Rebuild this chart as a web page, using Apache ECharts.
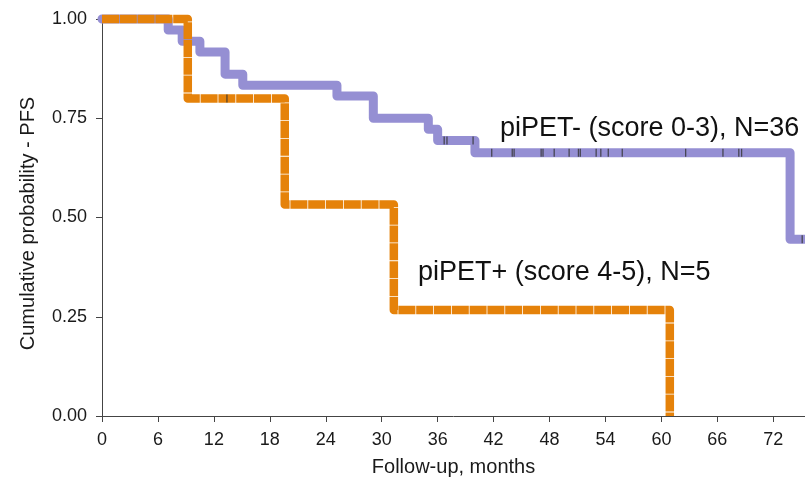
<!DOCTYPE html>
<html>
<head>
<meta charset="utf-8">
<script src="https://cdn.jsdelivr.net/npm/echarts@6/dist/echarts.min.js"></script>
<style>
  html, body { margin: 0; padding: 0; background: #fff; }
  #chart { width: 805px; height: 478px; }
</style>
</head>
<body>
<div id="chart"></div>
<script>
// Kaplan-Meier PFS curves: event times (months) and survival after each step
const negTimes = [0, 7.1, 8.6, 10.5, 13.2, 15.1, 25.2, 29.1, 35.0, 36.0, 40.0, 73.8, 75.4];
const negSurv  = [1, 0.972, 0.944, 0.917, 0.861, 0.833, 0.806, 0.75, 0.722, 0.694, 0.663, 0.445, 0.445];
const negCensor = [36.7, 37.0, 39.8, 41.8, 44.0, 44.2, 47.1, 47.3, 48.5, 50.1, 51.1, 51.3,
                   53.0, 53.5, 54.3, 55.8, 62.6, 66.6, 68.3, 68.6, 75.1];

const posTimes = [0, 9.2, 19.6, 31.3, 60.9];
const posSurv  = [1, 0.8, 0.533, 0.267, 0];
const posCensor = [13.4];

const xTicks = [0, 6, 12, 18, 24, 30, 36, 42, 48, 54, 60, 66, 72];
const yTicks = [0, 0.25, 0.5, 0.75, 1];

const negLabel = 'piPET- (score 0-3), N=36';
const posLabel = 'piPET+ (score 4-5), N=5';

// value of a step curve at time t
function survAt(times, surv, t) {
  let s = surv[0];
  for (let i = 0; i < times.length; i++) {
    if (times[i] <= t) s = surv[i];
  }
  return s;
}
const pairs = (a, b) => a.map((v, i) => [v, b[i]]);
const censorPts = (ct, times, surv) => ct.map(t => [t, survAt(times, surv, t)]);

const axisColor = '#444';
const textColor = '#1a1a1a';
const font = 'Liberation Sans, Arial, sans-serif';

const chart = echarts.init(document.getElementById('chart'), null, { renderer: 'canvas' });
chart.setOption({
  animation: false,
  backgroundColor: '#fff',
  grid: {
    left: 102, top: 19, bottom: 62, right: 0,
    containLabel: false, outerBoundsMode: 'none'
  },
  xAxis: {
    type: 'value', min: 0, max: 75.4, interval: 6,
    name: 'Follow-up, months', nameLocation: 'middle', nameGap: 41,
    nameTextStyle: { fontSize: 20, color: textColor, fontFamily: font },
    axisLine: { show: true, lineStyle: { color: axisColor, width: 1 } },
    axisTick: { show: true, length: 6, lineStyle: { color: axisColor } },
    axisLabel: {
      fontSize: 18, color: textColor, fontFamily: font, margin: 15,
      formatter: v => (xTicks.indexOf(v) >= 0 ? String(v) : ''),
      showMaxLabel: false
    },
    splitLine: { show: false }
  },
  yAxis: {
    type: 'value', min: 0, max: 1, interval: 0.25,
    name: 'Cumulative probability - PFS', nameLocation: 'middle', nameGap: 64,
    nameRotate: 90,
    nameTextStyle: { fontSize: 20, color: textColor, fontFamily: font, padding: [0, 12, 0, 0] },
    axisLine: { show: true, lineStyle: { color: axisColor, width: 1 } },
    axisTick: { show: true, length: 6, lineStyle: { color: axisColor } },
    axisLabel: {
      fontSize: 18, color: textColor, fontFamily: font, margin: 15,
      formatter: v => (yTicks.indexOf(v) >= 0 ? v.toFixed(2) : '')
    },
    splitLine: { show: false }
  },
  series: [
    {
      name: negLabel, type: 'line', step: 'end', clip: false,
      data: pairs(negTimes, negSurv), showSymbol: false, symbol: 'none',
      lineStyle: { color: '#958fd3', width: 9, join: 'round', cap: 'round' },
      z: 2
    },
    {
      type: 'scatter', clip: false,
      data: censorPts(negCensor, negTimes, negSurv),
      symbol: 'rect', symbolSize: [1.3, 8],
      itemStyle: { color: '#333' }, z: 3
    },
    {
      name: posLabel, type: 'line', step: 'end', clip: false,
      data: pairs(posTimes, posSurv), showSymbol: false, symbol: 'none',
      lineStyle: { color: '#e5820a', width: 8.5, type: [17, 0.8], join: 'round', cap: 'butt' },
      z: 4
    },
    {
      type: 'scatter', clip: false,
      data: censorPts(posCensor, posTimes, posSurv),
      symbol: 'rect', symbolSize: [1.3, 8],
      itemStyle: { color: '#333' }, z: 5
    }
  ],
  graphic: [
    {
      type: 'text', left: 500, top: 115,
      style: { text: negLabel, fontSize: 27, fill: '#111', fontFamily: font }
    },
    {
      type: 'text', left: 418, top: 259,
      style: { text: posLabel, fontSize: 27, fill: '#111', fontFamily: font }
    }
  ]
});
</script>
</body>
</html>
